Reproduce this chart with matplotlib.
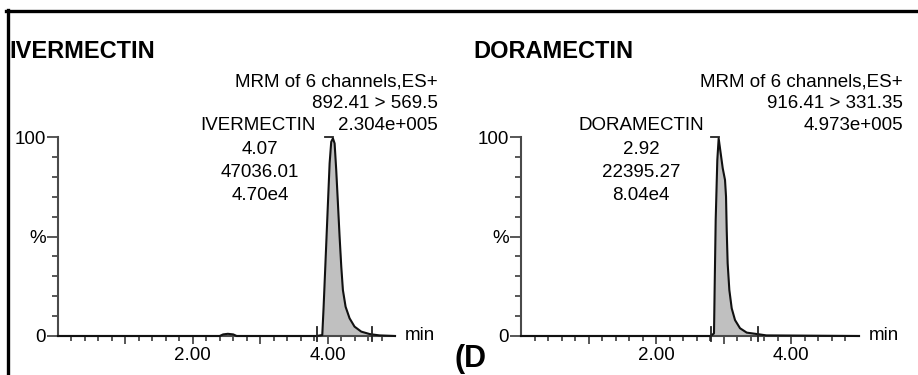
import matplotlib
matplotlib.use('Agg')
import matplotlib.pyplot as plt
from matplotlib.lines import Line2D
import numpy as np

plt.rcParams['font.family'] = ['Liberation Sans', 'DejaVu Sans']

W, H = 918, 375

# Ivermectin trace (min, % of max)
t_ivm = [0.0, 2.40, 2.45, 2.52, 2.60, 2.65, 3.84, 3.921, 3.941, 3.970, 4.005, 4.030,
         4.054, 4.079, 4.104, 4.128, 4.153, 4.178, 4.203, 4.227, 4.267, 4.326,
         4.400, 4.499, 4.622, 4.66, 4.77, 5.0]
i_ivm = [0.0, 0.0, 0.8, 1.1, 0.8, 0.0, 0.0, 0.5, 14.7, 38.2, 66.7, 86.8,
         97.6, 99.3, 96.8, 83.4, 66.7, 49.9, 34.8, 23.1, 14.7, 8.9,
         4.7, 2.2, 1.0, 0.8, 0.3, 0.0]
int_ivm = (3.84, 4.66)  # integration limits

# Doramectin trace
t_dor = [0.0, 2.806, 2.855, 2.865, 2.880, 2.904, 2.924, 2.954, 2.984, 3.018,
         3.033, 3.043, 3.057, 3.082, 3.117, 3.166, 3.24, 3.339, 3.487, 3.51,
         3.63, 5.0]
i_dor = [0.0, 0.0, 1.3, 24.8, 58.3, 88.4, 99.3, 91.8, 84.3, 78.4,
         70.0, 53.3, 36.5, 23.1, 13.9, 8.0, 3.9, 1.7, 1.0, 0.9,
         0.3, 0.0]
int_dor = (2.806, 3.51)

titles = ['IVERMECTIN', 'DORAMECTIN']
header_ivm = ['MRM of 6 channels,ES+', '892.41 > 569.5', '2.304e+005']
header_dor = ['MRM of 6 channels,ES+', '916.41 > 331.35', '4.973e+005']
peak_ivm = ['4.07', '47036.01', '4.70e4']
peak_dor = ['2.92', '22395.27', '8.04e4']

fig = plt.figure(figsize=(W / 100, H / 100), dpi=100)


def fx(px):
    return px / W


def fy(py):
    return 1 - py / H


axis_col = '#4a4a4a'


def draw_panel(ax, t, y, lims):
    t = np.array(t)
    y = np.array(y)
    m = (t >= lims[0]) & (t <= lims[1])
    ax.fill_between(t[m], 0, y[m], color='#c0c0c0', lw=0)
    ax.plot(t, y, color='#111111', lw=1.5, clip_on=False, zorder=3)
    # integration markers
    for xv in lims:
        ax.plot([xv, xv], [-2.5, 4.5], color='#222222', lw=1.3, clip_on=False, zorder=4)
    # peak leader
    top = t[np.argmax(y)]
    ax.plot([top - 0.12, top], [100, 100], color='#222222', lw=1.3, clip_on=False)

    ax.set_xlim(0, 5)
    ax.set_ylim(0, 100)
    for s in ['top', 'right']:
        ax.spines[s].set_visible(False)
    for s in ['left', 'bottom']:
        ax.spines[s].set_color(axis_col)
        ax.spines[s].set_linewidth(1.5)

    ax.set_xticks([1, 2, 3, 4])
    ax.set_xticklabels(['', '2.00', '', '4.00'])
    ax.set_xticks([v for v in np.arange(0.2, 5.0, 0.2) if abs(v - round(v)) > 0.01],
                  minor=True)
    ax.set_yticks([0, 50, 100])
    ax.set_yticklabels(['0', '%', '100'])
    ax.set_yticks([10, 20, 30, 40, 60, 70, 80, 90], minor=True)
    ax.tick_params(axis='x', which='major', length=6, width=1.3, color=axis_col,
                   labelsize=13.5, pad=2)
    ax.tick_params(axis='x', which='minor', length=3.5, width=1.3, color=axis_col)
    ax.tick_params(axis='y', which='major', length=8, width=1.3, color=axis_col,
                   labelsize=13.5, pad=0.5)
    ax.tick_params(axis='y', which='minor', length=4, width=1.3, color=axis_col)
    ax.text(5.14, 0, 'min', fontsize=13.5, ha='left', va='center')


ax1 = fig.add_axes([fx(58), 39 / H, 337 / W, 199 / H])
ax2 = fig.add_axes([fx(521), 39 / H, 338 / W, 199 / H])
draw_panel(ax1, t_ivm, i_ivm, int_ivm)
draw_panel(ax2, t_dor, i_dor, int_dor)

# titles
fig.text(fx(9), fy(58), titles[0], fontsize=17, fontweight='bold', va='baseline')
fig.text(fx(473), fy(58), titles[1], fontsize=17, fontweight='bold', va='baseline')

# header text blocks
for lines, xr in [(header_ivm, 438), (header_dor, 903)]:
    for k, s in enumerate(lines):
        fig.text(fx(xr), fy(86.5 + 21.7 * k), s, fontsize=13.5, ha='right',
                 va='baseline')

# peak labels
fig.text(fx(316), fy(130), 'IVERMECTIN', fontsize=13.5, ha='right', va='baseline')
fig.text(fx(704), fy(130), 'DORAMECTIN', fontsize=13.5, ha='right', va='baseline')
for lines, xc in [(peak_ivm, 260), (peak_dor, 641)]:
    for k, s in enumerate(lines):
        fig.text(fx(xc), fy(154 + 23 * k), s, fontsize=13.5, ha='center',
                 va='baseline')

fig.text(fx(455), fy(367), '(D', fontsize=22, fontweight='bold', va='baseline')

# frame lines (top and left)
fig.add_artist(Line2D([fx(6), 1], [fy(11), fy(11)], color='black', lw=2.4))
fig.add_artist(Line2D([fx(7.5), fx(7.5)], [0, fy(10)], color='black', lw=2.4))

fig.savefig('out.png', dpi=100)
